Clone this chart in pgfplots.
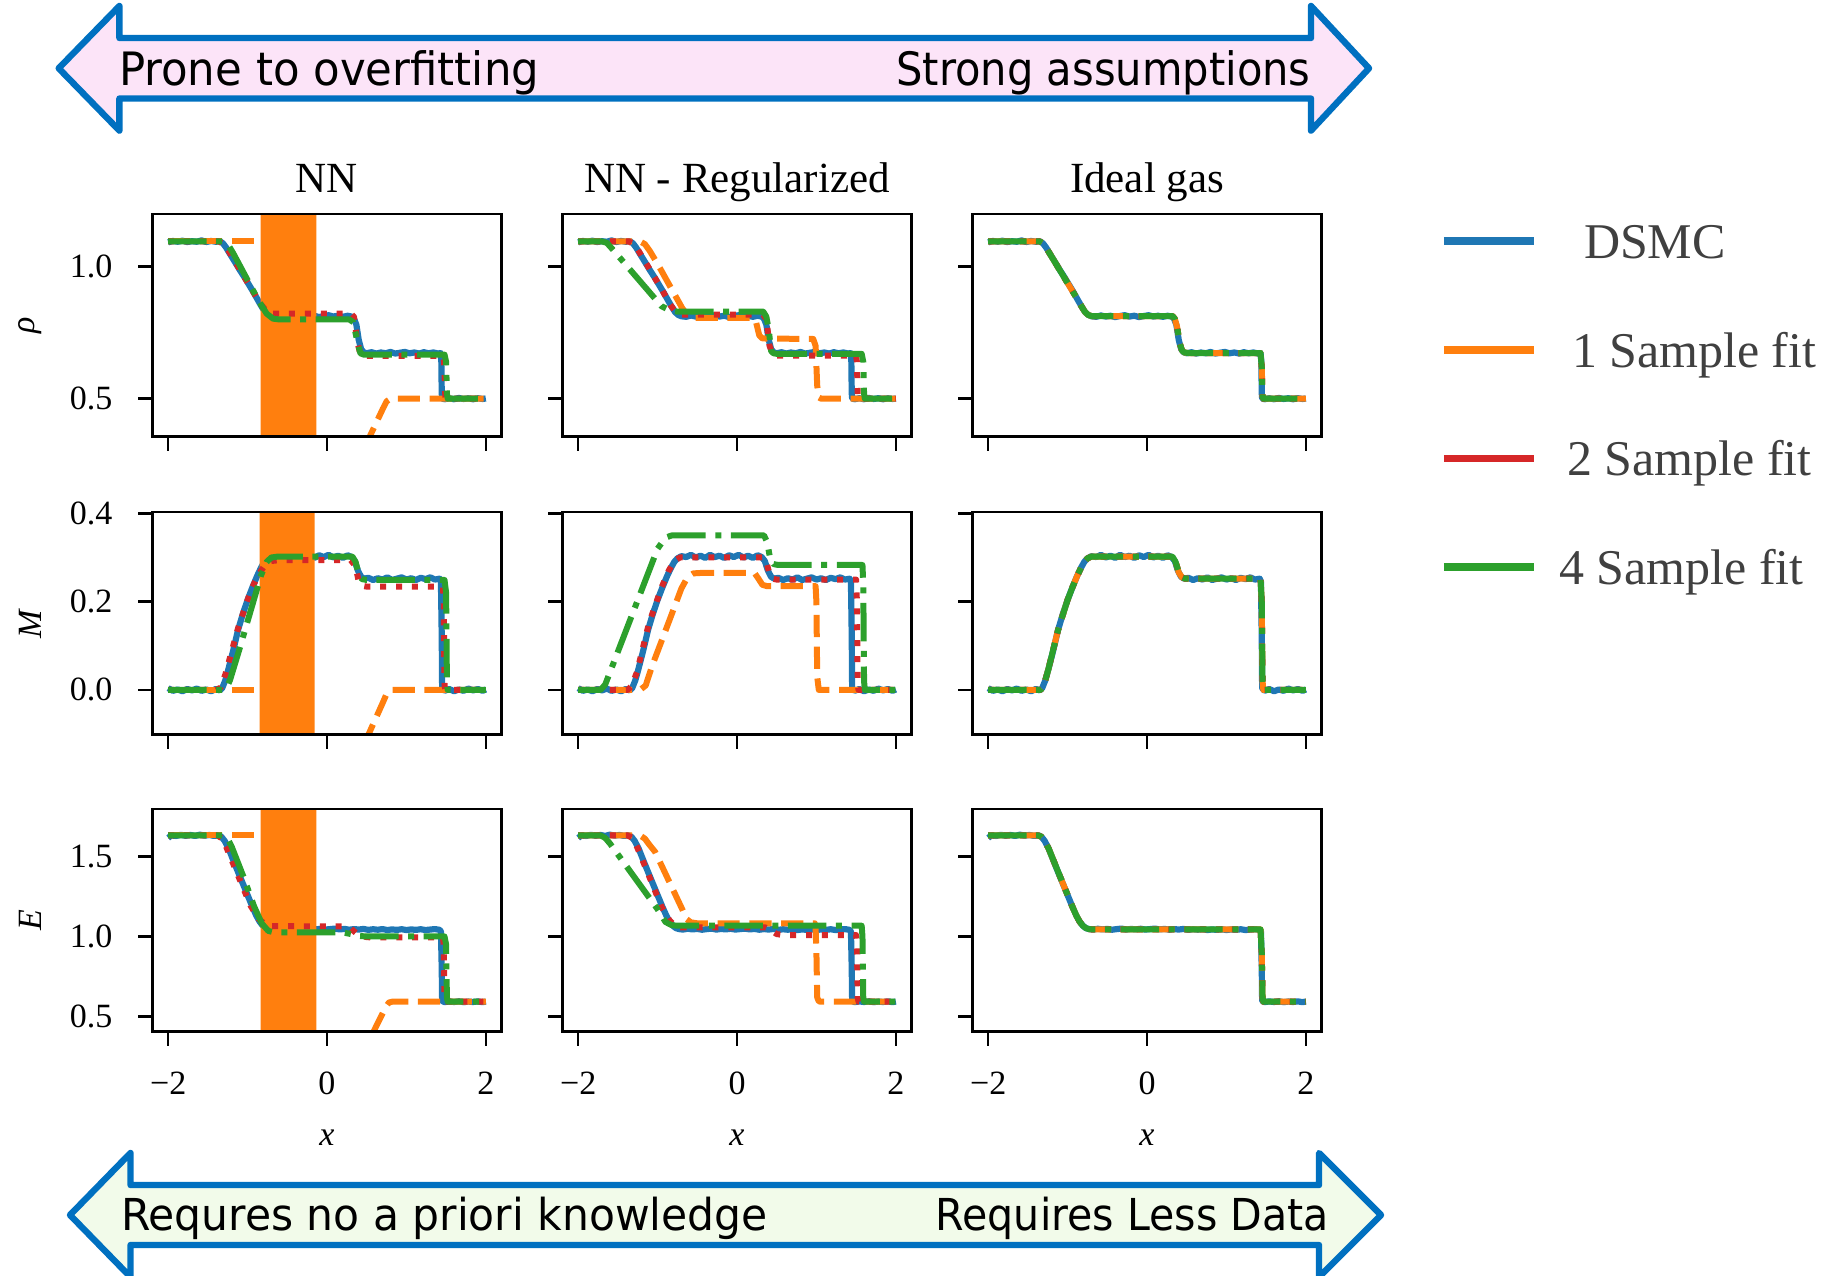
\documentclass[border=0pt]{standalone}
\usepackage{fontspec}
\setmainfont{Liberation Serif}
\newfontfamily\arrowfont{DejaVu Sans}
\usepackage{graphicx}
\usepackage{pgfplots}
\pgfplotsset{compat=1.18}
\usepackage{pgfplotstable}

\definecolor{cBlue}{HTML}{1F77B4}
\definecolor{cOrange}{HTML}{FF7F0E}
\definecolor{cRed}{HTML}{D62728}
\definecolor{cGreen}{HTML}{2CA02C}
\definecolor{arrowBlue}{HTML}{0070C0}
\definecolor{pinkFill}{HTML}{FCE4F8}
\definecolor{greenFill}{HTML}{F2FBEA}
\definecolor{legGray}{HTML}{404040}

\newcommand\ticksfont{\fontsize{17}{20}\selectfont}
\newcommand\titlefont{\fontsize{21.5}{25}\selectfont}
\newcommand\legfont{\fontsize{25}{30}\selectfont}

% DSMC data (noisy)
\pgfplotstableread{
x y
-2.00 1.092
-1.94 1.097
-1.88 1.094
-1.82 1.098
-1.76 1.093
-1.70 1.096
-1.64 1.094
-1.58 1.099
-1.52 1.093
-1.46 1.097
-1.40 1.094
-1.35 1.096
-1.31 1.088
-1.27 1.072
-1.22 1.047
-1.16 1.018
-1.10 0.988
-1.04 0.960
-0.98 0.930
-0.92 0.900
-0.87 0.873
-0.82 0.847
-0.78 0.828
-0.74 0.817
-0.70 0.812
-0.64 0.810
-0.58 0.815
-0.52 0.811
-0.46 0.814
-0.40 0.809
-0.34 0.813
-0.28 0.816
-0.22 0.811
-0.16 0.814
-0.10 0.809
-0.04 0.813
0.02 0.816
0.08 0.811
0.14 0.814
0.20 0.810
0.26 0.814
0.31 0.811
0.34 0.803
0.37 0.780
0.40 0.722
0.43 0.688
0.46 0.676
0.50 0.672
0.56 0.676
0.62 0.671
0.68 0.675
0.74 0.672
0.80 0.677
0.86 0.671
0.92 0.674
0.98 0.677
1.04 0.672
1.10 0.675
1.16 0.671
1.22 0.676
1.28 0.672
1.34 0.675
1.40 0.671
1.43 0.673
1.44 0.640
1.445 0.520
1.45 0.501
1.48 0.498
1.54 0.502
1.60 0.498
1.66 0.503
1.72 0.499
1.78 0.502
1.84 0.498
1.90 0.502
1.96 0.499
2.00 0.501
}\dsmcRho

\pgfplotstableread{
x y
-2.00 0.004
-1.94 -0.002
-1.88 0.001
-1.82 -0.003
-1.76 0.002
-1.70 -0.001
-1.64 0.003
-1.58 -0.002
-1.52 0.001
-1.46 -0.003
-1.40 0.002
-1.35 -0.001
-1.32 0.004
-1.28 0.022
-1.24 0.048
-1.18 0.090
-1.12 0.136
-1.06 0.172
-1.00 0.204
-0.94 0.232
-0.88 0.258
-0.83 0.277
-0.79 0.290
-0.75 0.298
-0.70 0.303
-0.64 0.301
-0.58 0.306
-0.52 0.300
-0.46 0.304
-0.40 0.299
-0.34 0.306
-0.28 0.301
-0.22 0.304
-0.16 0.299
-0.10 0.305
-0.04 0.301
0.02 0.306
0.08 0.300
0.14 0.304
0.20 0.299
0.26 0.305
0.31 0.301
0.35 0.292
0.39 0.270
0.43 0.256
0.47 0.252
0.52 0.254
0.58 0.249
0.64 0.253
0.70 0.250
0.76 0.255
0.82 0.249
0.88 0.252
0.94 0.255
1.00 0.250
1.06 0.253
1.12 0.249
1.18 0.254
1.24 0.251
1.30 0.255
1.36 0.250
1.42 0.252
1.435 0.245
1.445 0.120
1.45 0.004
1.48 -0.002
1.54 0.002
1.60 -0.003
1.66 0.001
1.72 -0.002
1.78 0.003
1.84 -0.001
1.90 0.002
1.96 -0.002
2.00 0.001
}\dsmcM

\pgfplotstableread{
x y
-2.00 1.615
-1.96 1.630
-1.90 1.627
-1.84 1.634
-1.78 1.628
-1.72 1.633
-1.66 1.627
-1.60 1.635
-1.54 1.629
-1.48 1.633
-1.42 1.627
-1.37 1.632
-1.33 1.622
-1.29 1.597
-1.24 1.550
-1.18 1.475
-1.12 1.402
-1.06 1.330
-1.00 1.258
-0.94 1.186
-0.89 1.130
-0.85 1.094
-0.81 1.068
-0.77 1.052
-0.73 1.046
-0.68 1.043
-0.62 1.048
-0.56 1.044
-0.50 1.047
-0.44 1.042
-0.38 1.046
-0.32 1.049
-0.26 1.043
-0.20 1.047
-0.14 1.044
-0.08 1.048
-0.02 1.043
0.04 1.046
0.10 1.049
0.16 1.044
0.22 1.047
0.28 1.042
0.34 1.046
0.40 1.043
0.46 1.047
0.52 1.041
0.58 1.045
0.64 1.042
0.70 1.046
0.76 1.040
0.82 1.044
0.88 1.041
0.94 1.045
1.00 1.040
1.06 1.044
1.12 1.041
1.18 1.045
1.24 1.040
1.30 1.043
1.36 1.046
1.42 1.041
1.435 1.030
1.445 0.800
1.45 0.598
1.48 0.590
1.54 0.595
1.60 0.591
1.66 0.596
1.72 0.590
1.78 0.594
1.84 0.591
1.90 0.595
1.96 0.590
2.00 0.594
}\dsmcE

% Ideal-gas fits (smooth)
\pgfplotstableread{
x y
-2.00 1.095
-1.35 1.095
-1.31 1.088
-1.27 1.072
-1.22 1.047
-0.87 0.873
-0.82 0.847
-0.78 0.828
-0.74 0.817
-0.70 0.813
0.32 0.813
0.35 0.803
0.38 0.770
0.41 0.712
0.44 0.683
0.47 0.675
0.52 0.673
1.43 0.673
1.445 0.620
1.455 0.510
1.465 0.500
2.00 0.500
}\idealRho

\pgfplotstableread{
x y
-2.00 0.000
-1.34 0.000
-1.30 0.010
-1.24 0.048
-1.12 0.136
-1.00 0.204
-0.94 0.232
-0.88 0.258
-0.83 0.277
-0.79 0.290
-0.75 0.298
-0.70 0.302
0.32 0.302
0.36 0.290
0.40 0.266
0.44 0.255
0.48 0.252
1.43 0.252
1.445 0.200
1.455 0.020
1.465 0.000
2.00 0.000
}\idealM

\pgfplotstableread{
x y
-2.00 1.630
-1.37 1.630
-1.33 1.622
-1.29 1.597
-1.24 1.550
-0.94 1.186
-0.89 1.130
-0.85 1.094
-0.81 1.068
-0.77 1.052
-0.73 1.046
-0.68 1.044
1.43 1.044
1.445 0.900
1.455 0.620
1.465 0.593
2.00 0.593
}\idealE

\pgfplotsset{
  panel/.style={
    scale only axis, width=174.7pt, height=111.25pt,
    anchor=north west,
    xmin=-2.2, xmax=2.2, xtick={-2,0,2},
    tick pos=left, tick align=outside,
    major tick length=7pt,
    tick style={line width=1.3pt, black},
    axis line style={line width=1.3pt, black},
    axis on top,
    tick label style={font=\ticksfont, inner sep=0pt},
    xticklabel style={anchor=base, yshift=-24.5pt},
    yticklabel style={anchor=east, xshift=-12.8pt},
    xticklabels={},
    yticklabels={},
    title style={at={(axis description cs:0.5,1.044)}, anchor=base, font=\titlefont, inner sep=0pt},
    xlabel style={at={(axis description cs:0.5,-0.4764)}, anchor=center, font=\ticksfont, inner sep=0pt},
    ylabel style={at={(axis description cs:-0.35,0.5)}, anchor=center, font=\ticksfont, inner sep=0pt},
  },
  rowA/.style={ymin=0.357, ymax=1.199, ytick={0.5,1.0}},
  rowB/.style={ymin=-0.101, ymax=0.403, ytick={0,0.2,0.4}},
  rowC/.style={ymin=0.407, ymax=1.795, ytick={0.5,1.0,1.5}},
  bottomrow/.style={xticklabels={−2,0,2}, xlabel={\textit{x}}},
  dsmc/.style={color=cBlue, line width=3.1pt, solid, line join=round},
  fitone/.style={color=cOrange, line width=3pt, dash pattern=on 11.1pt off 4.8pt, line join=round},
  fittwo/.style={color=cRed, line width=3pt, dash pattern=on 3pt off 4.95pt, line join=round},
  fitfour/.style={color=cGreen, line width=3pt, dash pattern=on 19.2pt off 4.8pt on 3pt off 4.8pt, line join=round},
  band/.style={fill=cOrange, draw=none},
}

\begin{document}
\begin{tikzpicture}
\path[use as bounding box] (0pt,0pt) rectangle (920.5pt,-637.5pt);

% top arrow
\draw[arrowBlue, line width=3.2pt, fill=pinkFill, line join=round]
  (29.35pt,-34.15pt) -- (59.7pt,-3pt) -- (59.7pt,-19pt) -- (655.5pt,-19pt) -- (655.5pt,-3pt)
  -- (684.5pt,-34.15pt) -- (655.5pt,-65.3pt) -- (655.5pt,-49.25pt) -- (59.7pt,-49.25pt)
  -- (59.7pt,-65.3pt) -- cycle;
\node[anchor=base west, inner sep=0pt] at (59.3pt,-42.5pt)
  {\scalebox{0.945}[1]{\arrowfont\fontsize{23}{27}\selectfont Prone to overfitting}};
\node[anchor=base east, inner sep=0pt] at (655.5pt,-42.5pt)
  {\scalebox{0.905}[1]{\arrowfont\fontsize{23}{27}\selectfont Strong assumptions}};

% bottom arrow
\draw[arrowBlue, line width=3.2pt, fill=greenFill, line join=round]
  (35pt,-607.5pt) -- (65.25pt,-576.5pt) -- (65.25pt,-592.5pt) -- (659.5pt,-592.5pt) -- (659.5pt,-576.5pt)
  -- (690.5pt,-607.5pt) -- (659.5pt,-638.5pt) -- (659.5pt,-622.5pt) -- (65.25pt,-622.5pt)
  -- (65.25pt,-638.5pt) -- cycle;
\node[anchor=base west, inner sep=0pt] at (60.3pt,-615pt)
  {\scalebox{0.965}[1]{\arrowfont\fontsize{22}{26}\selectfont Requres no a priori knowledge}};
\node[anchor=base east, inner sep=0pt] at (664.5pt,-615pt)
  {\scalebox{0.934}[1]{\arrowfont\fontsize{22}{26}\selectfont Requires Less Data}};

% ===== Row 1 : rho =====
\begin{axis}[panel, rowA, at={(76.15pt,-107pt)}, title={NN}, yticklabels={0.5,1.0}, ylabel={\textit{ρ}}]
\addplot[dsmc] table[x=x,y=y] {\dsmcRho};
\addplot[fitone] coordinates {(-2,1.095) (-0.83,1.095)};
\addplot[band] coordinates {(-0.835,-1) (-0.135,-1) (-0.135,3) (-0.835,3) (-0.835,-1)};
\addplot[fitone] coordinates {(0.30,0.205) (0.70,0.46) (0.75,0.49) (0.80,0.5) (2.0,0.5)};
\addplot[fittwo] coordinates {(-2,1.095) (-1.36,1.095) (-1.30,1.085) (-1.25,1.065) (-1.10,0.99) (-0.94,0.91) (-0.84,0.86) (-0.76,0.83) (-0.70,0.822) (0.30,0.822) (0.34,0.81) (0.38,0.72) (0.42,0.668) (0.46,0.662) (1.46,0.662) (1.475,0.64) (1.49,0.51) (1.50,0.5) (2.0,0.5)};
\addplot[fitfour] coordinates {(-2,1.095) (-1.30,1.095) (-1.24,1.08) (-1.18,1.05) (-1.02,0.96) (-0.86,0.87) (-0.76,0.822) (-0.68,0.803) (-0.60,0.80) (0.28,0.80) (0.33,0.79) (0.38,0.72) (0.42,0.672) (0.46,0.667) (1.48,0.667) (1.50,0.64) (1.51,0.52) (1.52,0.5) (2.0,0.5)};
\end{axis}

\begin{axis}[panel, rowA, at={(281.15pt,-107pt)}, title={NN - Regularized}]
\addplot[dsmc] table[x=x,y=y] {\dsmcRho};
\addplot[fitone] coordinates {(-2,1.095) (-1.22,1.095) (-1.16,1.085) (-1.10,1.06) (-1.03,1.025) (-0.97,0.994) (-0.69,0.843) (-0.62,0.815) (-0.55,0.806) (0.20,0.806) (0.24,0.79) (0.28,0.74) (0.32,0.728) (0.96,0.726) (0.99,0.70) (1.01,0.55) (1.03,0.505) (1.06,0.5) (2,0.5)};
\addplot[fittwo] coordinates {(-2,1.095) (-1.36,1.095) (-1.30,1.085) (-1.25,1.065) (-1.10,0.99) (-0.94,0.91) (-0.84,0.855) (-0.77,0.828) (-0.70,0.818) (0.33,0.818) (0.37,0.80) (0.41,0.70) (0.45,0.668) (0.50,0.663) (1.50,0.663) (1.51,0.64) (1.52,0.51) (1.53,0.5) (2,0.5)};
\addplot[fitfour] coordinates {(-2,1.095) (-1.70,1.095) (-1.64,1.09) (-1.58,1.07) (-0.95,0.85) (-0.85,0.835) (-0.76,0.83) (0.33,0.83) (0.37,0.81) (0.40,0.76) (0.43,0.68) (0.46,0.672) (0.50,0.67) (1.57,0.67) (1.59,0.64) (1.60,0.52) (1.61,0.5) (2,0.5)};
\end{axis}

\begin{axis}[panel, rowA, at={(486.15pt,-107pt)}, title={Ideal gas},
  legend style={at={(axis description cs:1.3372,0.9587)}, anchor=north west, draw=none, fill=none,
    inner sep=0pt, row sep=36.83pt, column sep=10.7pt, font=\legfont, text=legGray,
    nodes={inner sep=0pt, text height=17.5pt, text depth=0pt, text=legGray}},
  legend cell align=left,
  legend image code/.code={\draw[#1, solid, line width=3.85pt] (0pt,0pt) -- (45pt,0pt);}]
\addplot[dsmc] table[x=x,y=y] {\dsmcRho};
\addlegendentry{\hspace{12.5pt}DSMC}
\addplot[fitone] table[x=x,y=y] {\idealRho};
\addlegendentry{\hspace{6.5pt}1 Sample fit}
\addplot[fittwo] table[x=x,y=y] {\idealRho};
\addlegendentry{\hspace{4pt}2 Sample fit}
\addplot[fitfour] table[x=x,y=y] {\idealRho};
\addlegendentry{4 Sample fit}
\end{axis}

% ===== Row 2 : M =====
\begin{axis}[panel, rowB, at={(76.15pt,-256pt)}, yticklabels={0.0,0.2,0.4}, ylabel={\textit{M}}]
\addplot[dsmc] table[x=x,y=y] {\dsmcM};
\addplot[fitone] coordinates {(-2,0) (-0.83,0)};
\addplot[band] coordinates {(-0.85,-1) (-0.155,-1) (-0.155,1) (-0.85,1) (-0.85,-1)};
\addplot[fitone] coordinates {(0.30,-0.19) (0.70,-0.03) (0.76,-0.005) (0.80,0) (2,0)};
\addplot[fittwo] coordinates {(-2,0) (-1.40,0) (-1.34,0.005) (-1.28,0.035) (-1.12,0.14) (-0.96,0.225) (-0.86,0.262) (-0.78,0.283) (-0.70,0.292) (-0.60,0.294) (0.30,0.294) (0.36,0.28) (0.40,0.245) (0.44,0.236) (0.50,0.234) (1.46,0.234) (1.47,0.20) (1.48,0.01) (1.49,0) (2,0)};
\addplot[fitfour] coordinates {(-2,0) (-1.30,0) (-1.25,0.01) (-1.22,0.023) (-1.10,0.094) (-0.97,0.174) (-0.83,0.26) (-0.76,0.29) (-0.70,0.30) (-0.62,0.302) (0.32,0.302) (0.36,0.29) (0.40,0.262) (0.44,0.251) (0.50,0.249) (1.48,0.249) (1.50,0.22) (1.51,0.02) (1.52,0) (2,0)};
\end{axis}

\begin{axis}[panel, rowB, at={(281.15pt,-256pt)}]
\addplot[dsmc] table[x=x,y=y] {\dsmcM};
\addplot[fitone] coordinates {(-2,0) (-1.22,0) (-1.15,0.01) (-1.07,0.054) (-0.88,0.144) (-0.70,0.23) (-0.62,0.256) (-0.55,0.264) (-0.45,0.265) (0.22,0.265) (0.27,0.252) (0.32,0.238) (0.38,0.235) (0.99,0.235) (1.00,0.20) (1.01,0.03) (1.03,0) (2,0)};
\addplot[fittwo] coordinates {(-2,0) (-1.38,0) (-1.33,0.008) (-1.26,0.04) (-1.11,0.15) (-0.95,0.232) (-0.86,0.27) (-0.79,0.292) (-0.72,0.30) (0.33,0.30) (0.37,0.29) (0.41,0.262) (0.45,0.252) (0.50,0.25) (1.50,0.25) (1.51,0.20) (1.52,0.01) (1.53,0) (2,0)};
\addplot[fitfour] coordinates {(-2,0) (-1.72,0) (-1.66,0.012) (-1.60,0.04) (-1.00,0.32) (-0.90,0.345) (-0.82,0.35) (0.34,0.35) (0.38,0.335) (0.42,0.295) (0.46,0.285) (0.52,0.283) (1.58,0.283) (1.59,0.24) (1.60,0.02) (1.61,0) (2,0)};
\end{axis}

\begin{axis}[panel, rowB, at={(486.15pt,-256pt)}]
\addplot[dsmc] table[x=x,y=y] {\dsmcM};
\addplot[fitone] table[x=x,y=y] {\idealM};
\addplot[fittwo] table[x=x,y=y] {\idealM};
\addplot[fitfour] table[x=x,y=y] {\idealM};
\end{axis}

% ===== Row 3 : E =====
\begin{axis}[panel, rowC, bottomrow, at={(76.15pt,-404.5pt)}, yticklabels={0.5,1.0,1.5}, ylabel={\textit{E}}]
\addplot[dsmc] table[x=x,y=y] {\dsmcE};
\addplot[fitone] coordinates {(-2,1.63) (-0.83,1.63)};
\addplot[band] coordinates {(-0.835,0) (-0.135,0) (-0.135,3) (-0.835,3) (-0.835,0)};
\addplot[fitone] coordinates {(0.40,0.22) (0.74,0.56) (0.78,0.588) (0.82,0.593) (2,0.593)};
\addplot[fittwo] coordinates {(-2,1.63) (-1.38,1.63) (-1.32,1.61) (-1.27,1.56) (-1.12,1.38) (-0.96,1.19) (-0.86,1.11) (-0.78,1.075) (-0.70,1.064) (0.22,1.063) (0.30,1.05) (0.38,1.015) (0.46,0.998) (0.55,0.994) (1.46,0.994) (1.47,0.95) (1.48,0.61) (1.49,0.593) (2,0.593)};
\addplot[fitfour] coordinates {(-2,1.63) (-1.30,1.63) (-1.25,1.61) (-1.20,1.56) (-1.05,1.37) (-0.92,1.19) (-0.82,1.08) (-0.74,1.035) (-0.66,1.025) (0.20,1.025) (0.30,1.015) (0.40,1.003) (0.50,1.0) (1.48,1.0) (1.50,0.95) (1.51,0.62) (1.52,0.593) (2,0.593)};
\end{axis}

\begin{axis}[panel, rowC, bottomrow, at={(281.15pt,-404.5pt)}]
\addplot[dsmc] table[x=x,y=y] {\dsmcE};
\addplot[fitone] coordinates {(-2,1.63) (-1.22,1.63) (-1.16,1.61) (-1.10,1.57) (-1.03,1.527) (-0.69,1.17) (-0.64,1.11) (-0.58,1.088) (-0.50,1.082) (0.98,1.082) (0.99,1.05) (1.00,0.90) (1.01,0.62) (1.03,0.595) (1.06,0.593) (2,0.593)};
\addplot[fittwo] coordinates {(-2,1.63) (-1.38,1.63) (-1.32,1.615) (-1.26,1.56) (-1.11,1.38) (-0.95,1.185) (-0.85,1.10) (-0.78,1.065) (-0.70,1.056) (0.36,1.056) (0.42,1.04) (0.50,1.015) (0.58,1.009) (1.50,1.009) (1.51,0.95) (1.52,0.62) (1.53,0.593) (2,0.593)};
\addplot[fitfour] coordinates {(-2,1.63) (-1.72,1.63) (-1.66,1.615) (-1.60,1.58) (-1.00,1.17) (-0.90,1.09) (-0.82,1.07) (-0.75,1.067) (1.57,1.067) (1.58,1.00) (1.59,0.62) (1.60,0.593) (2,0.593)};
\end{axis}

\begin{axis}[panel, rowC, bottomrow, at={(486.15pt,-404.5pt)}]
\addplot[dsmc] table[x=x,y=y] {\dsmcE};
\addplot[fitone] table[x=x,y=y] {\idealE};
\addplot[fittwo] table[x=x,y=y] {\idealE};
\addplot[fitfour] table[x=x,y=y] {\idealE};
\end{axis}

\end{tikzpicture}
\end{document}
